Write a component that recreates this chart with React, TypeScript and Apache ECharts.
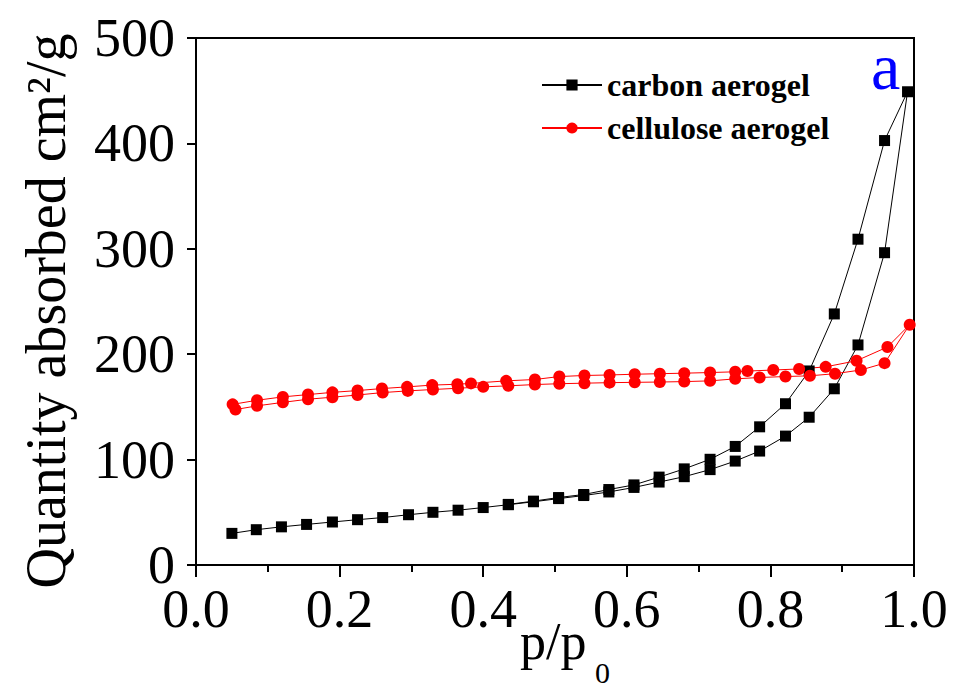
import React, { useEffect, useRef } from "react";
import * as echarts from "echarts";

// carbon aerogel: adsorption branch (ascending p/p0) and desorption branch (descending)
const carbonAdsP = [0.050, 0.084, 0.119, 0.154, 0.190, 0.225, 0.260, 0.296, 0.330, 0.365, 0.400, 0.435, 0.470, 0.505, 0.540, 0.575, 0.610, 0.645, 0.680, 0.716, 0.751, 0.785, 0.821, 0.854, 0.889, 0.922, 0.959, 0.991];
const carbonAdsQ = [30, 33.5, 36.2, 38.5, 40.8, 43, 45, 47.7, 50, 52, 54.5, 57.2, 60, 63, 65.9, 69.3, 73.6, 78.7, 83.8, 90.5, 98.6, 108.1, 122.3, 140.2, 167.2, 208.8, 296.3, 449];
const carbonDesP = [0.959, 0.922, 0.889, 0.854, 0.821, 0.785, 0.751, 0.716, 0.680, 0.645, 0.610, 0.575, 0.540, 0.505, 0.470, 0.435];
const carbonDesQ = [402.7, 309.1, 238.2, 184.1, 153.0, 131.1, 112.5, 100.3, 91.2, 83.4, 76.0, 71.6, 66.9, 64.0, 60.6, 57.5];

// cellulose aerogel
const celluAdsP = [0.055, 0.085, 0.121, 0.156, 0.190, 0.225, 0.260, 0.295, 0.330, 0.365, 0.400, 0.435, 0.472, 0.506, 0.541, 0.576, 0.611, 0.646, 0.680, 0.716, 0.751, 0.785, 0.821, 0.855, 0.890, 0.926, 0.959, 0.994];
const celluAdsQ = [147.5, 151, 154.3, 157.3, 159.2, 161.3, 163.6, 165.2, 166.5, 167.7, 169, 170, 171.2, 172, 172.5, 173, 173.3, 173.6, 174, 174.7, 176.6, 177.9, 178.8, 179.5, 181.5, 185, 191.5, 228];
const celluDesP = [0.963, 0.920, 0.877, 0.840, 0.804, 0.768, 0.751, 0.716, 0.680, 0.646, 0.611, 0.576, 0.541, 0.506, 0.472, 0.432, 0.383, 0.364, 0.329, 0.294, 0.259, 0.225, 0.190, 0.156, 0.121, 0.085, 0.051];
const celluDesQ = [206.8, 193.8, 188, 186, 185, 184, 183.3, 182.6, 182, 181.5, 181, 180.3, 179.8, 178.8, 176, 174.7, 172.3, 171.5, 170.7, 169, 167.4, 165.5, 163.8, 161.7, 159.5, 156.3, 152.4];

const seriesNames = ["carbon aerogel", "cellulose aerogel"];
const xTitle = "p/p";
const xTitleSub = "0";
const yTitle = "Quantity absorbed cm\u00B2/g";
const panelLabel = "a";

const FONT = "'Liberation Serif', 'Times New Roman', serif";

const pairs = (xs: number[], ys: number[]) => xs.map((x, i) => [x, ys[i]]);

export default function App() {
  const ref = useRef<HTMLDivElement>(null);
  useEffect(() => {
    const chart = echarts.init(ref.current!, null, { renderer: "svg" });
    const carbonData = [...pairs(carbonAdsP, carbonAdsQ), ...pairs(carbonDesP, carbonDesQ)];
    const celluData = [...pairs(celluAdsP, celluAdsQ), ...pairs(celluDesP, celluDesQ)];
    chart.setOption({
      animation: false,
      backgroundColor: "#ffffff",
      grid: {
        left: 196,
        right: 39,
        top: 38,
        bottom: 121,
        show: true,
        borderColor: "#000",
        borderWidth: 2,
        backgroundColor: "transparent",
      },
      legend: {
        data: seriesNames,
        orient: "vertical",
        left: 541,
        top: 69,
        padding: 0,
        itemWidth: 60,
        itemHeight: 14,
        itemGap: 11,
        textStyle: {
          fontFamily: FONT,
          fontWeight: "bold",
          fontSize: 32,
          lineHeight: 32,
          color: "#000",
        },
      },
      xAxis: {
        type: "value",
        min: 0,
        max: 1,
        interval: 0.2,
        axisLine: { show: true, lineStyle: { color: "#000", width: 2 } },
        axisTick: { show: true, inside: false, length: 12, lineStyle: { color: "#000", width: 2 } },
        minorTick: { show: true, splitNumber: 2, length: 7, lineStyle: { color: "#000", width: 2 } },
        splitLine: { show: false },
        minorSplitLine: { show: false },
        axisLabel: {
          formatter: (v: number) => v.toFixed(1),
          fontFamily: FONT,
          fontSize: 54,
          lineHeight: 54,
          color: "#000",
          margin: 17,
        },
      },
      yAxis: {
        type: "value",
        min: 0,
        max: 500,
        interval: 100,
        axisLine: { show: true, lineStyle: { color: "#000", width: 2 } },
        axisTick: { show: true, inside: false, length: 9, lineStyle: { color: "#000", width: 2 } },
        splitLine: { show: false },
        axisLabel: {
          fontFamily: FONT,
          fontSize: 54,
          color: "#000",
          margin: 21,
        },
      },
      series: [
        {
          name: seriesNames[0],
          type: "line",
          data: carbonData,
          symbol: "rect",
          symbolSize: 11,
          showSymbol: true,
          lineStyle: { color: "#000", width: 1 },
          itemStyle: { color: "#000" },
        },
        {
          name: seriesNames[1],
          type: "line",
          data: celluData,
          symbol: "circle",
          symbolSize: 12,
          showSymbol: true,
          lineStyle: { color: "#ff0000", width: 1 },
          itemStyle: { color: "#ff0000" },
        },
      ],
      graphic: [
        {
          type: "text",
          x: 46,
          y: 311,
          rotation: Math.PI / 2,
          style: {
            text: yTitle,
            fontFamily: FONT,
            fontSize: 56,
            fill: "#000",
            textAlign: "center",
            textVerticalAlign: "middle",
            align: "center",
            verticalAlign: "middle",
          },
        },
        {
          type: "text",
          x: 520,
          y: 641,
          style: {
            text: xTitle,
            fontFamily: FONT,
            fontSize: 52,
            fill: "#000",
            textAlign: "left",
            textVerticalAlign: "middle",
            align: "left",
            verticalAlign: "middle",
          },
        },
        {
          type: "text",
          x: 595,
          y: 672,
          style: {
            text: xTitleSub,
            fontFamily: FONT,
            fontSize: 30,
            fill: "#000",
            textAlign: "left",
            textVerticalAlign: "middle",
            align: "left",
            verticalAlign: "middle",
          },
        },
        {
          type: "text",
          x: 871,
          y: 66,
          style: {
            text: panelLabel,
            fontFamily: FONT,
            fontSize: 66,
            fill: "#0000ff",
            textAlign: "left",
            textVerticalAlign: "middle",
            align: "left",
            verticalAlign: "middle",
          },
        },
      ],
    });
    return () => chart.dispose();
  }, []);
  return (
    <div
      ref={ref}
      style={{ position: "fixed", left: 0, top: 0, width: 953, height: 686, background: "#fff" }}
    />
  );
}
